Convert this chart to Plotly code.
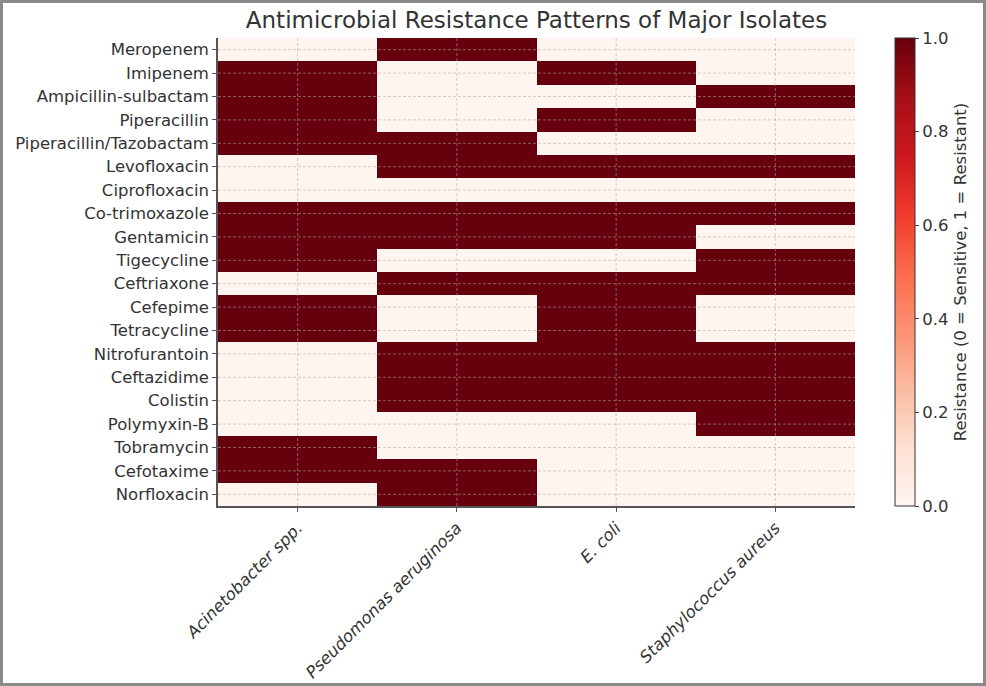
import plotly.graph_objects as go

# --- DATA ---
ISOLATES = ["Acinetobacter spp.", "Pseudomonas aeruginosa", "E. coli", "Staphylococcus aureus"]
ANTIBIOTICS = [
    "Meropenem", "Imipenem", "Ampicillin-sulbactam", "Piperacillin",
    "Piperacillin/Tazobactam", "Levofloxacin", "Ciprofloxacin", "Co-trimoxazole",
    "Gentamicin", "Tigecycline", "Ceftriaxone", "Cefepime", "Tetracycline",
    "Nitrofurantoin", "Ceftazidime", "Colistin", "Polymyxin-B", "Tobramycin",
    "Cefotaxime", "Norfloxacin",
]
# 0 = sensitive, 1 = resistant; one row per antibiotic, columns follow ISOLATES
RESISTANCE = [
    [0, 1, 0, 0],
    [1, 0, 1, 0],
    [1, 0, 0, 1],
    [1, 0, 1, 0],
    [1, 1, 0, 0],
    [0, 1, 1, 1],
    [0, 0, 0, 0],
    [1, 1, 1, 1],
    [1, 1, 1, 0],
    [1, 0, 0, 1],
    [0, 1, 1, 1],
    [1, 0, 1, 0],
    [1, 0, 1, 0],
    [0, 1, 1, 1],
    [0, 1, 1, 1],
    [0, 1, 1, 1],
    [0, 0, 0, 1],
    [1, 0, 0, 0],
    [1, 1, 0, 0],
    [0, 1, 0, 0],
]
CBAR_TICKS = [0.0, 0.2, 0.4, 0.6, 0.8, 1.0]

FONT = "DejaVu Sans"
TXT = "#333333"
FS = 16.5
W, H = 986, 686
L, R, T, B = 218, 131, 38, 180
pw, ph = W - L - R, H - T - B

fig = go.Figure(go.Heatmap(
    z=RESISTANCE, x=ISOLATES, y=ANTIBIOTICS,
    colorscale="Reds", zmin=0, zmax=1,
    colorbar=dict(
        x=(895 - L) / pw, xanchor="left", xpad=0, ypad=0,
        y=0.5, len=1.0, lenmode="fraction",
        thickness=20, outlinewidth=1, outlinecolor="#333",
        tickvals=CBAR_TICKS, tickformat=".1f", ticks="outside", ticklen=4,
        tickfont=dict(family=FONT, size=FS, color=TXT),
        title=dict(text="Resistance (0 = Sensitive, 1 = Resistant)", side="right",
                   font=dict(family=FONT, size=FS, color=TXT)),
    ),
))

# dashed grid drawn over the cells, like the matplotlib version
grid = dict(color="rgba(170,170,170,0.55)", width=1, dash="3px,2px")
for i in range(len(ISOLATES)):
    fig.add_shape(type="line", xref="x", yref="paper", x0=i, x1=i, y0=0, y1=1,
                  line=grid, layer="above")
for j in range(len(ANTIBIOTICS)):
    fig.add_shape(type="line", xref="paper", yref="y", x0=0, x1=1, y0=j, y1=j,
                  line=grid, layer="above")

# outer frame around the whole picture
fig.add_shape(type="rect", xref="paper", yref="paper",
              x0=(-L + 1.5) / pw, x1=1 + (R - 1.5) / pw,
              y0=(-B + 1.5) / ph, y1=1 + (T - 1.5) / ph,
              line=dict(color="#8a8a8a", width=3))

fig.update_layout(
    width=W, height=H, autosize=False,
    margin=dict(l=L, r=R, t=T, b=B, autoexpand=False),
    paper_bgcolor="white", plot_bgcolor="white",
    title=dict(text="Antimicrobial Resistance Patterns of Major Isolates",
               x=0.5, xref="paper", xanchor="center", y=1 - 20 / H, yanchor="middle",
               font=dict(family=FONT, size=23, color=TXT)),
    xaxis=dict(showgrid=False, zeroline=False, showline=True, linecolor="#555", linewidth=1.5,
               automargin=False,
               ticks="outside", ticklen=4, tickcolor="#555", tickangle=-45,
               tickfont=dict(family=FONT, size=FS, color=TXT, style="italic")),
    yaxis=dict(showgrid=False, zeroline=False, showline=True, linecolor="#555", linewidth=1.5,
               automargin=False,
               autorange="reversed", ticks="outside", ticklen=4, tickcolor="#555",
               tickfont=dict(family=FONT, size=FS, color=TXT)),
)

fig.write_html("out.html",
               config={"responsive": False, "displayModeBar": False},
               post_script="document.body.style.margin='0';")
